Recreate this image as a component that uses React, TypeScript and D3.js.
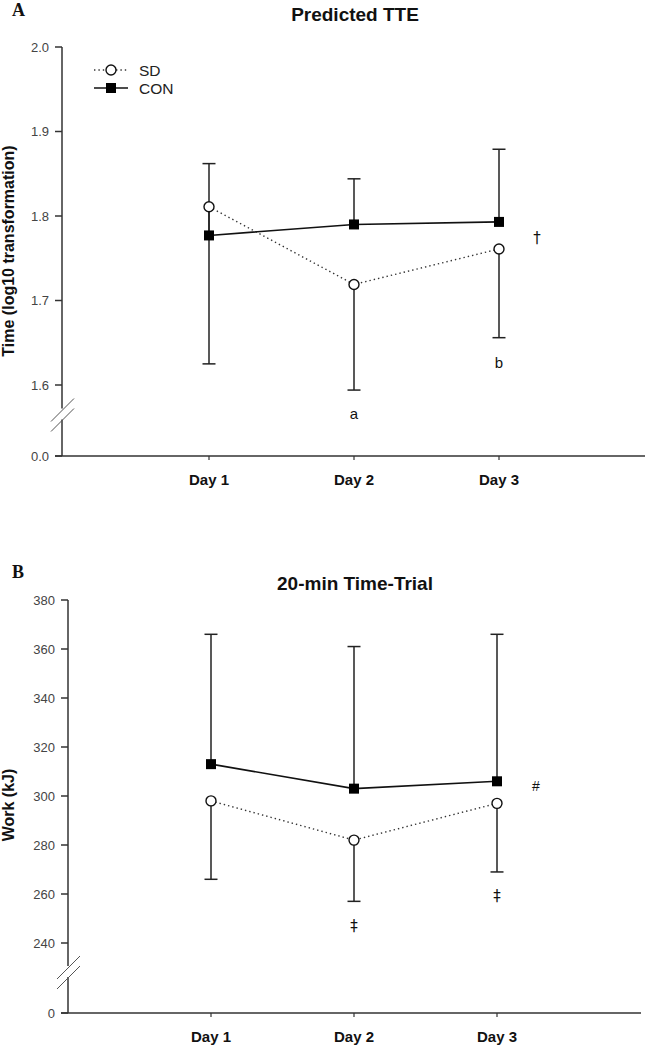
import * as React from "react";
import * as d3 from "d3";

const days = ["Day 1", "Day 2", "Day 3"];

// Panel A: predicted time to exhaustion (log10)
const tteTicks = [1.6, 1.7, 1.8, 1.9, 2.0];
const tteCon = [1.777, 1.79, 1.793];
const tteConUpper = [1.862, 1.844, 1.879];
const tteSd = [1.811, 1.719, 1.761];
const tteSdLower = [1.625, 1.594, 1.656];

// Panel B: 20-min time-trial work (kJ)
const workTicks = [240, 260, 280, 300, 320, 340, 360, 380];
const workCon = [313, 303, 306];
const workConUpper = [366, 361, 366];
const workSd = [298, 282, 297];
const workSdLower = [266, 257, 269];

const SANS = "'Liberation Sans', Arial, sans-serif";
const SERIF = "'Liberation Serif', 'Times New Roman', serif";
const SYMBOL = "'DejaVu Sans', 'Liberation Sans', sans-serif";

interface PanelCfg {
  top: number; // y of highest tick
  lowTickY: number; // y of lowest broken-range tick
  zeroY: number;
  axisX: number;
  axisEnd: number;
  dayX: [number, number];
  ticks: number[];
  fmt: (v: number) => string;
  zeroLabel: string;
  con: number[];
  conUpper: number[];
  sd: number[];
  sdLower: number[];
  title: string;
  titleY: number;
  letter: string;
  letterY: number;
  ylabel: string;
  ylabelY: number;
  notes: { day: number; v: number; dx: number; text: string; size: number; sym?: boolean }[];
  legend: boolean;
}

function drawPanel(svg: d3.Selection<SVGSVGElement, unknown, null, undefined>, c: PanelCfg) {
  const g = svg.append("g");
  const x = d3.scaleLinear().domain([0, 2]).range(c.dayX);
  const y = d3
    .scaleLinear()
    .domain([c.ticks[0], c.ticks[c.ticks.length - 1]])
    .range([c.lowTickY, c.top]);

  const axisCol = "#333";
  const breakMid = (c.lowTickY + c.zeroY) / 2 - 6;

  // y axis, interrupted by the break marks
  g.append("line")
    .attr("x1", c.axisX).attr("x2", c.axisX)
    .attr("y1", c.top).attr("y2", breakMid - 6)
    .attr("stroke", axisCol).attr("stroke-width", 1.5);
  g.append("line")
    .attr("x1", c.axisX).attr("x2", c.axisX)
    .attr("y1", breakMid + 5).attr("y2", c.zeroY)
    .attr("stroke", axisCol).attr("stroke-width", 1.5);
  [-5, 5].forEach(off => {
    g.append("line")
      .attr("x1", c.axisX - 11).attr("y1", breakMid + off + 12)
      .attr("x2", c.axisX + 12).attr("y2", breakMid + off - 11)
      .attr("stroke", "#555").attr("stroke-width", 1);
  });

  const tickVals = c.ticks.map(v => ({ y: y(v), label: c.fmt(v) }));
  tickVals.push({ y: c.zeroY, label: c.zeroLabel });
  tickVals.forEach(t => {
    g.append("line")
      .attr("x1", c.axisX - 7).attr("x2", c.axisX)
      .attr("y1", t.y).attr("y2", t.y)
      .attr("stroke", axisCol).attr("stroke-width", 1.5);
    g.append("text")
      .attr("x", c.axisX - 13).attr("y", t.y + 4.5)
      .attr("text-anchor", "end")
      .attr("font-family", SANS).attr("font-size", 13)
      .attr("fill", "#444")
      .text(t.label);
  });

  // x axis
  g.append("line")
    .attr("x1", c.axisX - 7).attr("x2", c.axisEnd)
    .attr("y1", c.zeroY).attr("y2", c.zeroY)
    .attr("stroke", axisCol).attr("stroke-width", 1.5);
  days.forEach((d, i) => {
    g.append("line")
      .attr("x1", x(i)).attr("x2", x(i))
      .attr("y1", c.zeroY).attr("y2", c.zeroY + 4)
      .attr("stroke", axisCol).attr("stroke-width", 1.2);
    g.append("text")
      .attr("x", x(i)).attr("y", c.zeroY + 29)
      .attr("text-anchor", "middle")
      .attr("font-family", SANS).attr("font-weight", "bold").attr("font-size", 15)
      .attr("fill", "#111")
      .text(d);
  });

  // error bars: CON upward, SD downward
  const bar = (xi: number, v0: number, v1: number) => {
    g.append("line")
      .attr("x1", x(xi)).attr("x2", x(xi))
      .attr("y1", y(v0)).attr("y2", y(v1))
      .attr("stroke", "#222").attr("stroke-width", 1.5);
    g.append("line")
      .attr("x1", x(xi) - 6.5).attr("x2", x(xi) + 6.5)
      .attr("y1", y(v1)).attr("y2", y(v1))
      .attr("stroke", "#222").attr("stroke-width", 1.5);
  };
  c.con.forEach((v, i) => bar(i, v, c.conUpper[i]));
  c.sd.forEach((v, i) => bar(i, v, c.sdLower[i]));

  const line = d3
    .line<number>()
    .x((_, i) => x(i))
    .y(v => y(v));

  g.append("path")
    .attr("d", line(c.sd))
    .attr("fill", "none")
    .attr("stroke", "#333")
    .attr("stroke-width", 1.4)
    .attr("stroke-dasharray", "1.4,3");
  g.append("path")
    .attr("d", line(c.con))
    .attr("fill", "none")
    .attr("stroke", "#111")
    .attr("stroke-width", 1.6);

  g.selectAll(".sdpt")
    .data(c.sd)
    .enter()
    .append("circle")
    .attr("cx", (_, i) => x(i))
    .attr("cy", v => y(v))
    .attr("r", 5)
    .attr("fill", "#fff")
    .attr("stroke", "#111")
    .attr("stroke-width", 1.4);
  g.selectAll(".conpt")
    .data(c.con)
    .enter()
    .append("rect")
    .attr("x", (_, i) => x(i) - 5)
    .attr("y", v => y(v) - 5)
    .attr("width", 10)
    .attr("height", 10)
    .attr("fill", "#000");

  // significance markers
  c.notes.forEach(n => {
    g.append("text")
      .attr("x", x(n.day) + n.dx)
      .attr("y", y(n.v))
      .attr("text-anchor", "middle")
      .attr("dominant-baseline", "central")
      .attr("font-family", n.sym ? SYMBOL : SANS)
      .attr("font-size", n.size)
      .attr("fill", "#111")
      .text(n.text);
  });

  // titles
  g.append("text")
    .attr("x", 355).attr("y", c.titleY)
    .attr("text-anchor", "middle")
    .attr("font-family", SANS).attr("font-weight", "bold").attr("font-size", 19)
    .attr("fill", "#111")
    .text(c.title);
  g.append("text")
    .attr("x", 12).attr("y", c.letterY)
    .attr("font-family", SERIF).attr("font-weight", "bold").attr("font-size", 18)
    .attr("fill", "#111")
    .text(c.letter);
  g.append("text")
    .attr("transform", `translate(14,${c.ylabelY}) rotate(-90)`)
    .attr("text-anchor", "middle")
    .attr("font-family", SANS).attr("font-weight", "bold").attr("font-size", 16)
    .attr("fill", "#111")
    .text(c.ylabel);

  if (c.legend) {
    const lg = g.append("g").attr("transform", "translate(94,70)");
    lg.append("line")
      .attr("x1", 0).attr("x2", 34).attr("y1", 0).attr("y2", 0)
      .attr("stroke", "#333").attr("stroke-width", 1.4)
      .attr("stroke-dasharray", "1.4,3");
    lg.append("circle")
      .attr("cx", 17).attr("cy", 0).attr("r", 5)
      .attr("fill", "#fff").attr("stroke", "#111").attr("stroke-width", 1.4);
    lg.append("line")
      .attr("x1", 0).attr("x2", 34).attr("y1", 18).attr("y2", 18)
      .attr("stroke", "#111").attr("stroke-width", 1.6);
    lg.append("rect")
      .attr("x", 12).attr("y", 13).attr("width", 10).attr("height", 10)
      .attr("fill", "#000");
    ["SD", "CON"].forEach((s, i) => {
      lg.append("text")
        .attr("x", 45).attr("y", i * 18 + 5.5)
        .attr("font-family", SANS).attr("font-size", 15.5)
        .attr("fill", "#222")
        .text(s);
    });
  }
}

export default function App() {
  const ref = React.useRef<SVGSVGElement>(null);

  React.useEffect(() => {
    if (!ref.current) return;
    const svg = d3.select(ref.current);
    svg.selectAll("*").remove();

    drawPanel(svg, {
      top: 47,
      lowTickY: 385,
      zeroY: 456,
      axisX: 62,
      axisEnd: 645,
      dayX: [209, 499],
      ticks: tteTicks,
      fmt: d3.format(".1f"),
      zeroLabel: "0.0",
      con: tteCon,
      conUpper: tteConUpper,
      sd: tteSd,
      sdLower: tteSdLower,
      title: "Predicted TTE",
      titleY: 21,
      letter: "A",
      letterY: 16,
      ylabel: "Time (log10 transformation)",
      ylabelY: 251,
      notes: [
        { day: 1, v: 1.566, dx: 0, text: "a", size: 15 },
        { day: 2, v: 1.627, dx: 0, text: "b", size: 15 },
        { day: 2, v: 1.774, dx: 38, text: "†", size: 15, sym: true },
      ],
      legend: true,
    });

    drawPanel(svg, {
      top: 600,
      lowTickY: 943,
      zeroY: 1013,
      axisX: 68,
      axisEnd: 641,
      dayX: [211, 497],
      ticks: workTicks,
      fmt: d3.format("d"),
      zeroLabel: "0",
      con: workCon,
      conUpper: workConUpper,
      sd: workSd,
      sdLower: workSdLower,
      title: "20-min Time-Trial",
      titleY: 590,
      letter: "B",
      letterY: 578,
      ylabel: "Work (kJ)",
      ylabelY: 805,
      notes: [
        { day: 1, v: 247, dx: 0, text: "‡", size: 15, sym: true },
        { day: 2, v: 259, dx: 0, text: "‡", size: 15, sym: true },
        { day: 2, v: 304, dx: 39, text: "#", size: 14 },
      ],
      legend: false,
    });
  }, []);

  return (
    <svg
      ref={ref}
      width={646}
      height={1046}
      style={{ position: "absolute", left: 0, top: 0, background: "#fff" }}
    />
  );
}
